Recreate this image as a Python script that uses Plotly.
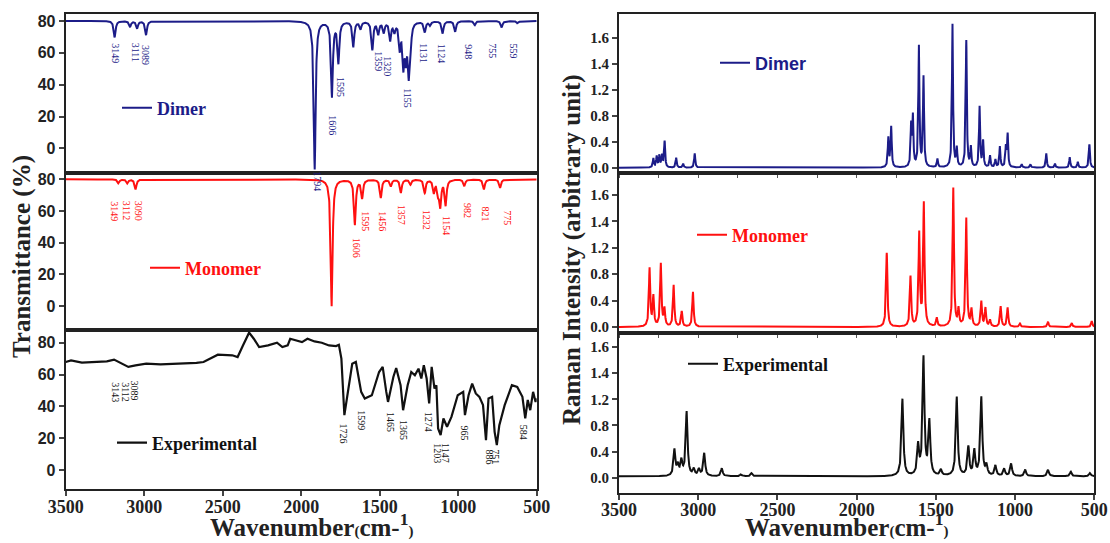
import numpy as np
import plotly.graph_objects as go

# ---------------- data ----------------
# Calculated IR, dimer: band centres (cm-1) and depth below the 80 % baseline
dimer_ir_pos = [3188, 3090, 3045, 2988, 1914, 1804, 1763, 1668, 1622, 1547, 1509, 1474,
                1433, 1406, 1372, 1349, 1333, 1315, 1304, 1213, 1179, 1099, 1019, 894, 723, 621]
dimer_ir_depth = [10.3, 3.6, 4.6, 8.8, 93, 47, 25.5, 16, 4.6, 17.8, 7.7, 6.7,
                  11.5, 5.7, 16, 26, 20, 30, 12, 6.7, 2.5, 7.7, 6.7, 2.5, 4, 1.5]
# Calculated IR, monomer
mono_ir_pos = [3164, 3107, 3055, 1806, 1658, 1612, 1493, 1429, 1365, 1304, 1213, 1155,
               1128, 1114, 1080, 961, 836, 733]
mono_ir_depth = [2.5, 2.5, 6.3, 80, 28.4, 11.6, 11.6, 4.2, 8.4, 3.2, 8.4, 8,
                 8, 16, 16, 4.2, 6.3, 5.3]
# Experimental IR trace
exp_ir_x = [3500, 3466, 3397, 3329, 3238, 3192, 3146, 3101, 3055, 2987, 2896, 2781, 2667, 2622,
            2576, 2531, 2439, 2405, 2371, 2332, 2302, 2268, 2211, 2154, 2120, 2086, 2070, 2029,
            1995, 1960, 1915, 1869, 1823, 1778, 1760, 1744, 1725, 1709, 1675, 1652, 1618, 1595,
            1550, 1504, 1481, 1458, 1447, 1413, 1395, 1367, 1351, 1322, 1299, 1276, 1253, 1235,
            1219, 1201, 1185, 1169, 1151, 1139, 1128, 1112, 1094, 1071, 1043, 1003, 968, 957,
            934, 911, 888, 865, 842, 823, 807, 784, 768, 754, 738, 704, 658, 624, 591, 573, 557,
            541, 523, 507, 500]
exp_ir_y = [67.9, 68.9, 67.5, 67.9, 68.3, 69.4, 66.8, 64.8, 65.8, 66.8, 66.4, 66.8, 67.3, 67.9,
            70.4, 72.5, 72.1, 71.0, 78.3, 86.3, 82.5, 77.3, 78.3, 80.0, 77.3, 78.3, 82.5, 81.5,
            80.4, 82.5, 80.8, 80.0, 78.3, 77.9, 78.7, 70.0, 34.5, 44.9, 66.8, 67.9, 49.1, 44.9,
            47.0, 61.6, 64.8, 49.1, 42.8, 58.5, 64.1, 53.3, 37.6, 53.3, 61.6, 59.5, 63.7, 57.5,
            65.8, 57.5, 41.8, 64.8, 51.2, 53.3, 26.1, 22.0, 32.4, 27.2, 33.4, 47.0, 49.1, 34.5,
            47.0, 54.3, 48.1, 46.0, 40.8, 18.8, 44.9, 46.0, 24.0, 15.7, 28.2, 40.8, 53.3, 52.2,
            46.0, 32.4, 44.0, 37.6, 49.1, 42.8, 45.0]
# Raman: band centres and heights (on the panel's evenly spaced tick scale)
dimer_ra_pos = [3283, 3262, 3245, 3228, 3212, 3139, 3095, 3022, 1800, 1782, 1656, 1645, 1607,
                1578, 1490, 1395, 1368, 1308, 1279, 1224, 1202, 1158, 1124, 1096, 1058, 1047,
                958, 903, 803, 748, 655, 604, 531]
dimer_ra_int = [0.14, 0.17, 0.18, 0.18, 0.4, 0.15, 0.06, 0.22, 0.45, 0.62, 0.62, 0.75, 1.85,
                1.38, 0.13, 2.2, 0.28, 1.95, 0.3, 0.93, 0.4, 0.18, 0.12, 0.32, 0.3, 0.5,
                0.05, 0.05, 0.22, 0.06, 0.16, 0.09, 0.36]
mono_ra_pos = [3307, 3283, 3236, 3213, 3155, 3104, 3033, 1810, 1660, 1605, 1576, 1494, 1390,
               1357, 1308, 1275, 1213, 1187, 1158, 1091, 1047, 969, 792, 642, 516]
mono_ra_int = [0.88, 0.45, 0.95, 0.26, 0.63, 0.23, 0.53, 1.12, 0.76, 1.4, 1.86, 0.13, 2.1,
               0.25, 1.64, 0.25, 0.38, 0.28, 0.1, 0.31, 0.29, 0.05, 0.08, 0.06, 0.09]
exp_ra_pos = [3150, 3128, 3106, 3073, 3028, 2995, 2962, 2851, 2730, 2663, 1711, 1612, 1578,
              1541, 1468, 1368, 1295, 1257, 1213, 1180, 1124, 1069, 1025, 936, 792, 648, 527]
exp_ra_int = [0.4, 0.15, 0.22, 0.98, 0.1, 0.1, 0.35, 0.12, 0.03, 0.05, 1.18, 0.45, 1.8,
              0.82, 0.09, 1.21, 0.44, 0.38, 1.2, 0.15, 0.16, 0.11, 0.19, 0.1, 0.1, 0.07, 0.05]

# peak labels (text) and where they sit
dimer_lbl = ["3149", "3111", "3089", "1606", "1595", "1359", "1320", "1155", "1131", "1124", "948", "755", "559"]
dimer_lbl_x = [3179, 3059, 2988, 1806, 1754, 1508, 1451, 1319, 1218, 1106, 935, 783, 651]
dimer_lbl_y = [59.7, 60.1, 58.6, 14.7, 38.7, 54.4, 51.3, 31.4, 59.7, 59.7, 60.8, 61.4, 60.8]
mono_lbl = ["3149", "3112", "3090", "1606", "1595", "1456", "1357", "1232", "1154", "982", "821", "775", "1794"]
mono_lbl_x = [3187, 3107, 3032, 1651, 1589, 1480, 1361, 1201, 1075, 938, 824, 687, 1795]
mono_lbl_y = [60, 60, 60, 36.8, 53.7, 53.7, 57.9, 54.7, 50.5, 60, 57.9, 55.8, -17]
exp_lbl = ["3143", "3112", "3089", "1726", "1599", "1465", "1365", "1274", "1203", "1147", "965", "886", "751", "584"]
exp_lbl_x = [3188, 3124, 3060, 1728, 1614, 1436, 1344, 1192, 1128, 1082, 957, 802, 763, 587]
exp_lbl_y = [49.1, 49.1, 50.1, 23, 31.4, 30.3, 25.1, 30.3, 10.5, 10.5, 23, 8.4, 8.4, 24]

x_ticks = [3500, 3000, 2500, 2000, 1500, 1000, 500]
x_minor_ticks = [3500, 3250, 3000, 2750, 2500, 2250, 2000, 1750, 1500, 1250, 1000, 750, 500]
ir_ticks = [0, 20, 40, 60, 80]
ra_tickvals = [0, 0.4, 0.8, 1.2, 1.6, 2.0]
ra_ticktext = ["0.0", "0.4", "0.8", "1.2", "1.4", "1.6"]

# ---------------- build curves (Lorentzian line shapes) ----------------
grid = np.arange(500, 3501, 1.0)


def bands(pos, amp, gamma):
    y = np.zeros_like(grid)
    for p, a in zip(pos, amp):
        y += a * gamma ** 2 / ((grid - p) ** 2 + gamma ** 2)
    return y


NAVY = "#1c1c88"
RED = "#ff1010"
BLACK = "#111111"
SERIF = "Liberation Serif"
SANS = "Liberation Sans"

fig = go.Figure()
fig.add_trace(go.Scatter(x=grid, y=80 - bands(dimer_ir_pos, dimer_ir_depth, 7), mode="lines",
                         line=dict(color=NAVY, width=2), name="Dimer", xaxis="x", yaxis="y", legend="legend"))
fig.add_trace(go.Scatter(x=grid, y=80 - bands(mono_ir_pos, mono_ir_depth, 7), mode="lines",
                         line=dict(color=RED, width=2), name="Monomer", xaxis="x2", yaxis="y2", legend="legend2"))
fig.add_trace(go.Scatter(x=exp_ir_x, y=exp_ir_y, mode="lines",
                         line=dict(color=BLACK, width=2.2), name="Experimental", xaxis="x3", yaxis="y3", legend="legend3"))
fig.add_trace(go.Scatter(x=grid, y=bands(dimer_ra_pos, dimer_ra_int, 4), mode="lines",
                         line=dict(color=NAVY, width=2), name="Dimer", xaxis="x4", yaxis="y4", legend="legend4"))
fig.add_trace(go.Scatter(x=grid, y=bands(mono_ra_pos, mono_ra_int, 5), mode="lines",
                         line=dict(color=RED, width=2), name="Monomer", xaxis="x5", yaxis="y5", legend="legend5"))
fig.add_trace(go.Scatter(x=grid, y=0.02 + bands(exp_ra_pos, exp_ra_int, 7), mode="lines",
                         line=dict(color=BLACK, width=2), name="Experimental", xaxis="x6", yaxis="y6", legend="legend6"))

W, H = 1110, 543
LX = [65.7 / W, 536.7 / W]
RX = [619 / W, 1094.3 / W]


def ydom(top, bottom):
    return [1 - bottom / H, 1 - top / H]


def xax(dom, anchor, show, minor=False):
    d = dict(domain=dom, anchor=anchor, range=[3500, 500], showgrid=False, zeroline=False,
             showline=True, mirror=True, linecolor="#222", linewidth=2, automargin=False,
             tickvals=x_ticks, ticks="outside" if show else "", ticklen=5, tickwidth=2,
             ticklabelstandoff=-5,
             showticklabels=show, tickfont=dict(family=SERIF, size=18, color="#222", weight="bold"))
    if minor:
        d.update(tickvals=x_minor_ticks, ticks="outside", ticklen=3, tickwidth=1, tickcolor="#555")
    return d


def yir(dom, anchor, rng):
    return dict(domain=dom, anchor=anchor, range=rng, showgrid=False, zeroline=False,
                showline=True, mirror=True, linecolor="#222", linewidth=2, automargin=False,
                tickvals=ir_ticks, ticks="outside", ticklen=5, tickwidth=2,
                tickfont=dict(family=SANS, size=16, color="#222", weight="bold"))


def yra(dom, anchor, rng):
    return dict(domain=dom, anchor=anchor, range=rng, showgrid=False, zeroline=False,
                showline=True, mirror=True, linecolor="#222", linewidth=2, automargin=False,
                tickvals=ra_tickvals, ticktext=ra_ticktext, ticks="outside", ticklen=5, tickwidth=2,
                tickfont=dict(family=SERIF, size=15, color="#222", weight="bold"))


def leg(xpx, ypx, family, color):
    return dict(x=xpx / W, y=1 - ypx / H, xanchor="left", yanchor="middle", bgcolor="rgba(0,0,0,0)",
                borderwidth=0, font=dict(family=family, size=18, color=color, weight="bold"))


fig.update_layout(
    width=W, height=H, margin=dict(l=0, r=0, t=0, b=0, autoexpand=False),
    paper_bgcolor="white", plot_bgcolor="white", showlegend=True,
    xaxis=xax(LX, "y", False), yaxis=yir(ydom(14.3, 172.7), "x", [-15.3, 84.2]),
    xaxis2=xax(LX, "y2", False), yaxis2=yir(ydom(172.7, 330.3), "x2", [-15.3, 84.2]),
    xaxis3=xax(LX, "y3", True), yaxis3=yir(ydom(330.3, 489.3), "x3", [-12.1, 87.8]),
    xaxis4=xax(RX, "y4", False, minor=True), yaxis4=yra(ydom(14.3, 173.3), "x4", [-0.086, 2.36]),
    xaxis5=xax(RX, "y5", False, minor=True), yaxis5=yra(ydom(173.3, 332.7), "x5", [-0.086, 2.33]),
    xaxis6=xax(RX, "y6", True), yaxis6=yra(ydom(332.7, 492.7), "x6", [-0.23, 2.22]),
    legend=leg(117, 108, SERIF, NAVY),
    legend2=leg(145, 268, SERIF, RED),
    legend3=leg(112, 443, SERIF, BLACK),
    legend4=leg(715, 63, SANS, NAVY),
    legend5=leg(692, 235, SERIF, RED),
    legend6=leg(683, 364, SERIF, BLACK),
)

ann = []


def peak_labels(texts, xs, ys, xref, yref, color):
    for t, x, y in zip(texts, xs, ys):
        ann.append(dict(text=t, x=x, y=y, xref=xref, yref=yref, showarrow=False, textangle=90,
                        xanchor="center", yanchor="middle",
                        font=dict(family=SERIF, size=10, color=color)))


peak_labels(dimer_lbl, dimer_lbl_x, dimer_lbl_y, "x", "y", NAVY)
peak_labels(["1794"], [1897], [78.5], "x2", "y2", NAVY)
peak_labels(mono_lbl, mono_lbl_x, mono_lbl_y, "x2", "y2", RED)
peak_labels(exp_lbl, exp_lbl_x, exp_lbl_y, "x3", "y3", BLACK)

title_font = dict(family=SERIF, size=25, color="#222")
ann.append(dict(text="<b>Transmittance (%)</b>", x=22 / W, y=1 - 257 / H, xref="paper", yref="paper",
                showarrow=False, textangle=-90, xanchor="center", yanchor="middle", font=title_font))
ann.append(dict(text="<b>Raman Intensity (arbitrary unit)</b>", x=572 / W, y=1 - 250 / H, xref="paper",
                yref="paper", showarrow=False, textangle=-90, xanchor="center", yanchor="middle",
                font=title_font))
xt = ("<b>Wavenumber<span style='font-size:15px'>(</span>cm-<sup>1</sup>"
      "<span style='font-size:15px'>)</span></b>")
for cx in (311, 846):
    ann.append(dict(text=xt, x=cx / W, y=0, xref="paper", yref="paper", showarrow=False,
                    xanchor="center", yanchor="bottom", font=dict(family=SERIF, size=25, color="#222")))

fig.update_layout(annotations=ann)
fig.write_html("out.html", config={"displayModeBar": False},
               post_script="document.body.style.margin='0px';")
